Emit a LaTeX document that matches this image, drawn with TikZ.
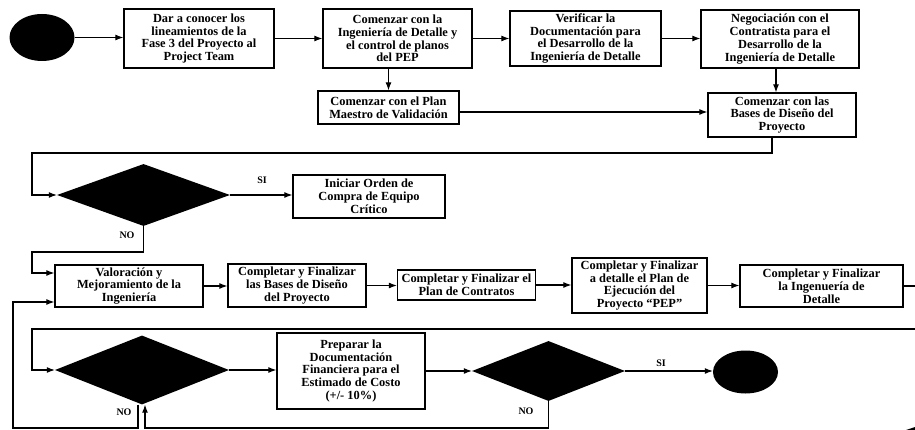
\documentclass[tikz,border=0pt]{standalone}
\usepackage{fontspec}
\setmainfont{Liberation Serif}
\usetikzlibrary{shapes.geometric,arrows.meta,calc}

\tikzset{
  box/.style={draw, line width=1.3pt, inner sep=0pt, align=center,
              font=\bfseries\fontsize{12.4}{12.8}\selectfont},
  blob/.style={ellipse, fill=black, inner sep=0pt},
  choice/.style={diamond, fill=black, inner sep=0pt},
  link/.style={line width=1.1pt},
  arr/.style={link, -{Latex[length=8pt,width=6pt]}},
  tag/.style={font=\bfseries\fontsize{10}{10}\selectfont, inner sep=0pt},
}

\begin{document}
\begin{tikzpicture}[x=1pt,y=-1pt]
\useasboundingbox (0,0) rectangle (915,430);

% ---- first row
\node[blob, minimum width=65pt, minimum height=47pt] (start) at (42,37.5) {};
\node[box, minimum width=150pt, minimum height=59pt] (b1) at (199,38.5)
  {Dar a conocer los\\lineamientos de la\\Fase 3 del Proyecto al\\Project Team};
\node[box, minimum width=149pt, minimum height=59pt] (b2) at (397.5,38.5)
  {Comenzar con la\\Ingeniería de Detalle y\\el control de planos\\del PEP};
\node[box, minimum width=151pt, minimum height=55pt] (b3) at (585.5,38.5)
  {Verificar la\\Documentación para\\el Desarrollo de la\\Ingeniería de Detalle};
\node[box, minimum width=158pt, minimum height=58pt] (b4) at (780,39)
  {Negociación con el\\Contratista para el\\Desarrollo de la\\Ingeniería de Detalle};

\draw[arr] (start.east) -- (start.east -| b1.west);
\draw[arr] (b1.east) -- (b1.east -| b2.west);
\draw[arr] (b2.east) -- (b2.east -| b3.west);
\draw[arr] (b3.east) -- (b3.east -| b4.west);

% ---- second row
\node[box, minimum width=141pt, minimum height=33pt] (pm) at (388.5,107.5)
  {Comenzar con el Plan\\Maestro de Validación};
\node[box, minimum width=148pt, minimum height=44pt] (bd) at (782,115)
  {Comenzar con las\\Bases de Diseño del\\Proyecto};

\draw[arr] (pm.north |- b2.south) -- (pm.north);
\draw[arr] ([xshift=-4pt]b4.south) -- ([xshift=-4pt]b4.south |- bd.north);
\draw[arr] ([yshift=-4.5pt]pm.east) -- ([yshift=-4.5pt]pm.east -| bd.west);

% ---- first decision
\node[choice, minimum width=173pt, minimum height=62pt] (d1) at (143.5,195) {};
\node[box, minimum width=152pt, minimum height=43pt] (ic) at (369,196.5)
  {Iniciar Orden de\\Compra de Equipo\\Crítico};
\node[tag] (si1) at (262,180) {SI};
\node[tag] (no1) at (127,235) {NO};

\coordinate (r1) at (32,153);
\draw[arr] ([xshift=-10pt]bd.south) |- (r1) |- (d1.west);
\draw[arr] (d1.east) -- (d1.east -| ic.west);

% ---- third row
\node[box, minimum width=148pt, minimum height=42pt] (val) at (129,286)
  {Valoración y\\Mejoramiento de la\\Ingeniería};
\node[box, minimum width=138pt, minimum height=43pt] (cb) at (297,285.5)
  {Completar y Finalizar\\las Bases de Diseño\\del Proyecto};
\node[box, minimum width=138pt, minimum height=30pt] (pc) at (466.5,285)
  {Completar y Finalizar el\\Plan de Contratos};
\node[box, minimum width=135pt, minimum height=55pt] (pep) at (639.5,285.5)
  {Completar y Finalizar\\a detalle el Plan de\\Ejecución del\\Proyecto “PEP”};
\node[box, minimum width=163pt, minimum height=42pt] (ing) at (821.5,286)
  {Completar y Finalizar\\la Ingenuería de\\Detalle};

\coordinate (r2) at (32,252);
\draw[arr] (d1.south) |- (r2) |- ([yshift=13pt]val.west);
\draw[arr] (val.east) -- (val.east -| cb.west);
\draw[arr] (cb.east) -- (cb.east -| pc.west);
\draw[arr] (pc.east) -- (pc.east -| pep.west);
\draw[arr] (pep.east) -- (pep.east -| ing.west);
\coordinate (edgeR) at (915,287);
\draw[link] (ing.east) -- (ing.east -| edgeR);

% ---- fourth row
\node[choice, minimum width=174pt, minimum height=69pt] (d2) at (142,370) {};
\node[box, minimum width=148pt, minimum height=76pt] (fin) at (351,371)
  {Preparar la\\Documentación\\Financiera para el\\Estimado de Costo\\(+/- 10\%)};
\node[choice, minimum width=153pt, minimum height=60pt] (d3) at (548.5,371) {};
\node[blob, minimum width=65pt, minimum height=43pt] (stop) at (745.5,372) {};
\node[tag] (si2) at (661,363) {SI};
\node[tag] (no2) at (526,411) {NO};
\node[tag] (no3) at (124,412) {NO};

\coordinate (topR) at (915,329);
\coordinate (r3) at (32,329);
\draw[arr] (topR) -- (r3) |- (d2.west);
\draw[arr] (d2.east) -- (d2.east -| fin.west);
\draw[arr] (fin.east) -- (fin.east -| d3.west);
\draw[arr] (d3.east) -- (d3.east -| stop.west);

\coordinate (r4) at (145,428);
\draw[arr] (d3.south) |- (r4) -- ([xshift=3pt]d2.south);
\coordinate (r5) at (13,428);
\draw[arr] ([xshift=-4pt]d2.south) |- (r5) |- ([yshift=-16pt]val.west);

% tip of a connector entering at the lower right corner
\fill (906,430) -- (915,427) -- (915,430) -- cycle;
\end{tikzpicture}
\end{document}
